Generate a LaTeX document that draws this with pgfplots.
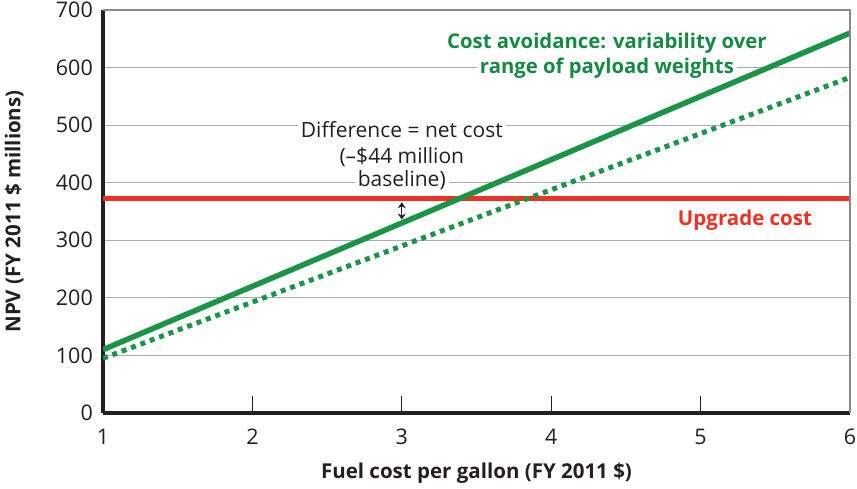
\documentclass[border=0pt]{standalone}
\usepackage{pgfplots}
\pgfplotsset{compat=1.18}
\usepackage{fontspec}
\setmainfont{Open Sans}
\usetikzlibrary{calc,arrows.meta}
\definecolor{lgreen}{HTML}{1A9447}
\definecolor{tgreen}{HTML}{168A45}
\definecolor{ured}{HTML}{EE3124}
\definecolor{grd}{HTML}{ABABAB}
\definecolor{brd}{HTML}{8A8A8A}
\definecolor{txt}{HTML}{231F20}
\begin{document}
\begin{tikzpicture}
\begin{axis}[
  scale only axis, width=747pt, height=403pt,
  xmin=1, xmax=6, ymin=0, ymax=700,
  xtick={1,2,3,4,5,6}, ytick={0,100,...,700},
  axis x line*=bottom, axis y line*=left,
  axis line style={-, line width=3.8pt, txt},
  tick align=inside,
  x tick style={txt, line width=1pt},
  major tick length=17pt,
  y tick style={draw=none},
  ymajorgrids, grid style={grd, line width=1.2pt},
  tick label style={font=\fontsize{21.5}{24}\selectfont, text=txt},
  /pgf/number format/assume math mode=true,
  xticklabel style={anchor=base, yshift=-31pt, inner sep=0pt},
  yticklabel style={anchor=east, xshift=-10pt, inner sep=0pt},
  xlabel={Fuel cost per gallon (FY 2011 \$)},
  ylabel={NPV (FY 2011 \$ millions)},
  label style={font=\bfseries\fontsize{20.5}{24}\selectfont, text=txt},
  xlabel style={at={(axis description cs:0.5,-0.149)}, anchor=center},
  ylabel style={at={(axis description cs:-0.119,0.5)}, anchor=center},
]
\begin{scope}[every node/.style={fill=white, inner sep=3pt, anchor=base, font=\fontsize{21}{24}\selectfont, text=txt}]
\node at (axis cs:3.0,478.3) {Difference = net cost};
\node at (axis cs:3.0,434) {(–\$44 million};
\node at (axis cs:3.0,394) {baseline)};
\node[font=\bfseries\fontsize{20.3}{24}\selectfont, text=tgreen] at (axis cs:4.373,633.7) {Cost avoidance: variability over};
\node[font=\bfseries\fontsize{20.3}{24}\selectfont, text=tgreen] at (axis cs:4.373,590.3) {range of payload weights};
\end{scope}
\addplot[ured, line width=5.2pt] coordinates {(1,372) (6,372)};
\addplot[lgreen, line width=5pt, dash pattern=on 5pt off 5pt] coordinates {(1,95) (6,583)};
\addplot[lgreen, line width=5.5pt] coordinates {(1,110) (6,660)};
\addplot[txt, line width=1.2pt, {Stealth[length=6pt,width=8pt]}-{Stealth[length=6pt,width=8pt]}] coordinates {(3,336) (3,366)};
\node[anchor=base, inner sep=3pt, font=\bfseries\fontsize{20.5}{24}\selectfont, text=ured] at (axis cs:5.297,326.4) {Upgrade cost};
\end{axis}
\draw[brd, line width=1.2pt] (current axis.north west) -- (current axis.north east) -- (current axis.south east);
\pgfresetboundingbox
\path ($(current axis.south west)+(-103pt,-75pt)$) rectangle ($(current axis.north east)+(7pt,10pt)$);
\end{tikzpicture}
\end{document}
